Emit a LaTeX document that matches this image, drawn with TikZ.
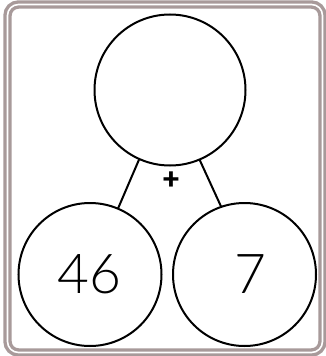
\documentclass[tikz,border=0pt]{standalone}
\usepackage{fontspec}
\setmainfont{Lato Light}
\newfontfamily\plusfont{Lato Black}
\begin{document}
\begin{tikzpicture}[x=1pt,y=-1pt,
  bubble/.style={circle,draw=black,line width=2pt,minimum size=#1,inner sep=0pt,outer sep=0pt},
  frame/.style={draw=frameclr,line width=3.4pt,double=white,double distance=1.6pt,rounded corners=11pt},
  num/.style={font=\fontsize{55}{55}\selectfont,anchor=base,inner sep=0pt},
  link/.style={line width=2pt,draw=black}]
\definecolor{frameclr}{HTML}{A89A9A}
\useasboundingbox (0,0) rectangle (326,356);
\path[frame] (7.5,4.5) rectangle (322.5,352.5);
\node[bubble=151pt] (top) at (170,90) {};
\node[bubble=143pt] (left) at (90,274.5) {};
\node[bubble=143pt] (right) at (244.5,274.5) {};
\draw[link] (top.246) -- (left.67);
\draw[link] (top.293) -- (right.109);
\node[font=\plusfont\fontsize{30}{30}\selectfont,inner sep=0pt] (plus) at (171,181) {+};
\node[num] (n46) at (89,293) {46};
\node[num] (n7) at (250,293) {7};
\end{tikzpicture}
\end{document}
